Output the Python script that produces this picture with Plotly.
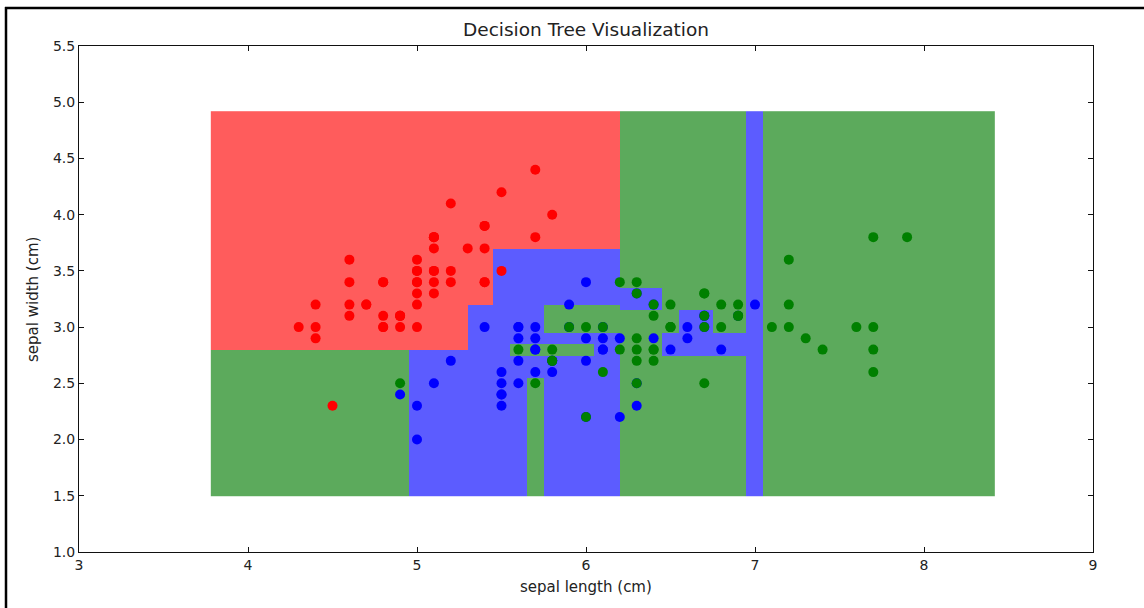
import numpy as np
import plotly.graph_objects as go

# Iris measurements per species (sepal length, sepal width)
setosa_length = [5.1, 4.9, 4.7, 4.6, 5.0, 5.4, 4.6, 5.0, 4.4, 4.9, 5.4, 4.8, 4.8, 4.3, 5.8, 5.7, 5.4,
                 5.1, 5.7, 5.1, 5.4, 5.1, 4.6, 5.1, 4.8, 5.0, 5.0, 5.2, 5.2, 4.7, 4.8, 5.4, 5.2, 5.5,
                 4.9, 5.0, 5.5, 4.9, 4.4, 5.1, 5.0, 4.5, 4.4, 5.0, 5.1, 4.8, 5.1, 4.6, 5.3, 5.0]
setosa_width = [3.5, 3.0, 3.2, 3.1, 3.6, 3.9, 3.4, 3.4, 2.9, 3.1, 3.7, 3.4, 3.0, 3.0, 4.0, 4.4, 3.9,
                3.5, 3.8, 3.8, 3.4, 3.7, 3.6, 3.3, 3.4, 3.0, 3.4, 3.5, 3.4, 3.2, 3.1, 3.4, 4.1, 4.2,
                3.1, 3.2, 3.5, 3.1, 3.0, 3.4, 3.5, 2.3, 3.2, 3.5, 3.8, 3.0, 3.8, 3.2, 3.7, 3.3]

versicolor_length = [7.0, 6.4, 6.9, 5.5, 6.5, 5.7, 6.3, 4.9, 6.6, 5.2, 5.0, 5.9, 6.0, 6.1, 5.6, 6.7, 5.6,
                     5.8, 6.2, 5.6, 5.9, 6.1, 6.3, 6.1, 6.4, 6.6, 6.8, 6.7, 6.0, 5.7, 5.5, 5.5, 5.8, 6.0,
                     5.4, 6.0, 6.7, 6.3, 5.6, 5.5, 5.5, 6.1, 5.8, 5.0, 5.6, 5.7, 5.7, 6.2, 5.1, 5.7]
versicolor_width = [3.2, 3.2, 3.1, 2.3, 2.8, 2.8, 3.3, 2.4, 2.9, 2.7, 2.0, 3.0, 2.2, 2.9, 2.9, 3.1, 3.0,
                    2.7, 2.2, 2.5, 3.2, 2.8, 2.5, 2.8, 2.9, 3.0, 2.8, 3.0, 2.9, 2.6, 2.4, 2.4, 2.7, 2.7,
                    3.0, 3.4, 3.1, 2.3, 3.0, 2.5, 2.6, 3.0, 2.6, 2.3, 2.7, 3.0, 2.9, 2.9, 2.5, 2.8]

virginica_length = [6.3, 5.8, 7.1, 6.3, 6.5, 7.6, 4.9, 7.3, 6.7, 7.2, 6.5, 6.4, 6.8, 5.7, 5.8, 6.4, 6.5,
                    7.7, 7.7, 6.0, 6.9, 5.6, 7.7, 6.3, 6.7, 7.2, 6.2, 6.1, 6.4, 7.2, 7.4, 7.9, 6.4, 6.3,
                    6.1, 7.7, 6.3, 6.4, 6.0, 6.9, 6.7, 6.9, 5.8, 6.8, 6.7, 6.7, 6.3, 6.5, 6.2, 5.9]
virginica_width = [3.3, 2.7, 3.0, 2.9, 3.0, 3.0, 2.5, 2.9, 2.5, 3.6, 3.2, 2.7, 3.0, 2.5, 2.8, 3.2, 3.0,
                   3.8, 2.6, 2.2, 3.2, 2.8, 2.8, 2.7, 3.3, 3.2, 2.8, 3.0, 2.8, 3.0, 2.8, 3.8, 2.8, 2.8,
                   2.6, 3.0, 3.4, 3.1, 3.0, 3.1, 3.1, 3.1, 2.7, 3.2, 3.3, 3.0, 2.5, 3.0, 3.4, 3.0]

# Decision regions of the fitted tree, painted in order (later boxes override earlier ones)
region_class = ["virginica", "setosa", "versicolor", "versicolor", "versicolor", "virginica",
                "virginica", "virginica", "versicolor", "versicolor", "versicolor", "versicolor"]
region_x0 = [3.78, 3.78, 4.95, 5.30, 5.45, 5.75, 5.55, 5.65, 6.20, 6.45, 6.55, 6.95]
region_x1 = [8.42, 6.20, 6.20, 6.20, 6.20, 6.20, 6.05, 5.75, 6.45, 6.95, 6.75, 7.05]
region_y0 = [1.50, 2.80, 1.50, 2.80, 3.20, 2.95, 2.75, 1.50, 3.15, 2.75, 2.95, 1.50]
region_y1 = [4.92, 4.92, 2.80, 3.20, 3.70, 3.20, 2.85, 2.55, 3.35, 2.95, 3.15, 4.92]

class_index = {"setosa": 0, "versicolor": 1, "virginica": 2}

step = 0.01
grid_x = np.round(np.arange(3.78 + step / 2, 8.42, step), 4)
grid_y = np.round(np.arange(1.50 + step / 2, 4.92, step), 4)
gx, gy = np.meshgrid(grid_x, grid_y)
z = np.full(gx.shape, np.nan)
for cls, x0, x1, y0, y1 in zip(region_class, region_x0, region_x1, region_y0, region_y1):
    mask = (gx >= x0) & (gx < x1) & (gy >= y0) & (gy < y1)
    z[mask] = class_index[cls]

red_area, blue_area, green_area = "rgb(255,92,92)", "rgb(92,92,255)", "rgb(92,170,92)"

fig = go.Figure()
fig.add_trace(go.Heatmap(
    x=grid_x, y=grid_y, z=z, zmin=0, zmax=2, showscale=False, hoverinfo="skip",
    colorscale=[[0, red_area], [0.3333, red_area], [0.3334, blue_area], [0.6666, blue_area],
                [0.6667, green_area], [1, green_area]],
))

for xs, ys, col in [(setosa_length, setosa_width, "#ff0000"),
                    (versicolor_length, versicolor_width, "#0000ff"),
                    (virginica_length, virginica_width, "#008000")]:
    fig.add_trace(go.Scatter(x=xs, y=ys, mode="markers", showlegend=False,
                             marker=dict(size=10, color=col, line=dict(width=0))))

axis_common = dict(showline=True, linecolor="#111", linewidth=1, mirror="ticks",
                   ticks="inside", ticklen=5, tickcolor="#111", showgrid=False, zeroline=False,
                   tickfont=dict(family="DejaVu Sans", size=14, color="#222"))

fig.update_xaxes(range=[3, 9], tickvals=[3, 4, 5, 6, 7, 8, 9], **axis_common)
fig.update_yaxes(range=[1.0, 5.5], tickvals=[1.0, 1.5, 2.0, 2.5, 3.0, 3.5, 4.0, 4.5, 5.0, 5.5],
                 tickformat=".1f", **axis_common)

W, H = 1144, 608
ml, mr, mt, mb = 79, 51, 46, 56
pw, ph = W - ml - mr, H - mt - mb


def px_x(p):
    return (p - ml) / pw


def px_y(p):
    return (H - mb - p) / ph


fig.update_layout(
    width=W, height=H,
    margin=dict(l=ml, r=mr, t=mt, b=mb),
    paper_bgcolor="white", plot_bgcolor="white",
    title=dict(text="Decision Tree Visualization", xref="paper", x=0.5, xanchor="center",
               y=1 - 30 / H, yanchor="middle",
               font=dict(family="DejaVu Sans", size=18.5, color="#222")),
    annotations=[
        dict(text="sepal length (cm)", xref="paper", yref="paper", x=px_x(586), y=px_y(587),
             showarrow=False, xanchor="center", yanchor="middle",
             font=dict(family="DejaVu Sans", size=15, color="#222")),
        dict(text="sepal width (cm)", xref="paper", yref="paper", x=px_x(33), y=px_y(300),
             showarrow=False, xanchor="center", yanchor="middle", textangle=-90,
             font=dict(family="DejaVu Sans", size=15, color="#222")),
    ],
    shapes=[
        dict(type="line", xref="paper", yref="paper", x0=px_x(6), x1=px_x(6),
             y0=px_y(7), y1=px_y(H + 2), line=dict(color="black", width=2.5)),
        dict(type="line", xref="paper", yref="paper", x0=px_x(5), x1=px_x(W + 2),
             y0=px_y(8), y1=px_y(8), line=dict(color="black", width=2.5)),
    ],
)

fig.write_html("out.html")
